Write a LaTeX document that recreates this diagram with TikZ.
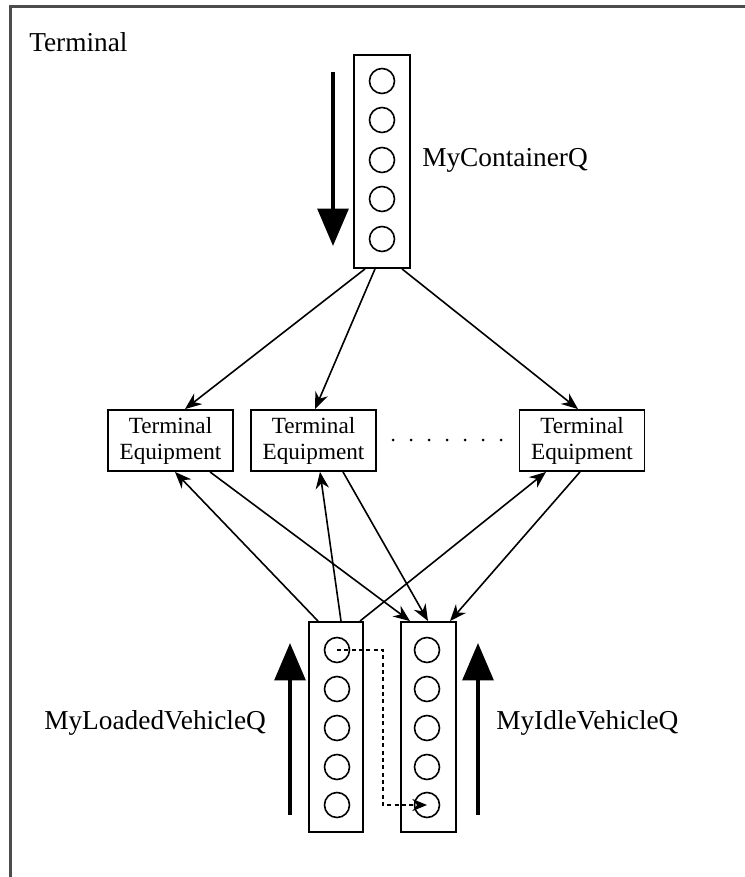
\documentclass[tikz,border=0pt]{standalone}
\usepackage{fontspec}
\setmainfont{Liberation Serif}
\usetikzlibrary{arrows.meta,calc}
\begin{document}
\begin{tikzpicture}[x=0.75pt,y=-0.75pt,
  queuebox/.style={draw, line width=1.4pt, rectangle, inner sep=0pt},
  tebox/.style={draw, line width=1.4pt, rectangle, inner sep=0pt,
    minimum width=93.75pt, minimum height=45.75pt, align=center,
    font=\fontsize{17.4}{19.5}\selectfont},
  slot/.style={circle, draw, line width=1.2pt, minimum size=18.75pt, inner sep=0pt},
  flow/.style={line width=1.2pt, -{Stealth[length=12.5pt,width=10pt]}},
  bigarrow/.style={line width=3pt, -{Triangle[length=28pt,width=23pt]}},
  biglabel/.style={font=\fontsize{20.5}{24}\selectfont, inner sep=0pt, anchor=base west}
]
\useasboundingbox (0,0) rectangle (744,877);

% outer frame of the terminal
\draw[line width=1.8pt, black!70] (10.5,900) |- (760,6.5);
\node[biglabel] (title) at (29,52) {Terminal};

% container queue
\node[queuebox, minimum width=42pt, minimum height=159.75pt] (cq) at (382,161.5) {};
\foreach \y [count=\i] in {81,120,160,199,239}
  \node[slot] (c\i) at (382,\y) {};
\node[biglabel] (cqlabel) at (422,167) {MyContainerQ};
\draw[bigarrow] (333,72) -- (333,246);

% terminal equipment
\node[tebox] (te1) at (170.5,440.5) {Terminal\\Equipment};
\node[tebox] (te2) at (313.5,440.5) {Terminal\\Equipment};
\node[tebox] (te3) at (582,440.5) {Terminal\\Equipment};
\foreach \k in {0,...,6}
  \fill (393+18*\k,440) circle (1.5);

% vehicle queues
\node[queuebox, minimum width=40.5pt, minimum height=157.5pt] (lv) at (336,727) {};
\node[queuebox, minimum width=41.25pt, minimum height=157.5pt] (iv) at (428.5,727) {};
\foreach \y [count=\i] in {650,689,728,767,805} {
  \node[slot] (l\i) at (337,\y) {};
  \node[slot] (i\i) at (427,\y) {};
}
\node[biglabel] (lvlabel) at (44,729) {MyLoadedVehicleQ};
\node[biglabel] (ivlabel) at (496,729) {MyIdleVehicleQ};
\draw[bigarrow] (290,815) -- (290,643);
\draw[bigarrow] (478,815) -- (478,643);

% containers handed to the equipment
\draw[flow] ($(cq.south)+(-17,0)$) -- ($(te1.north)+(14.5,0)$);
\draw[flow] ($(cq.south)+(-7,0)$) -- ($(te2.north)+(1.5,0)$);
\draw[flow] ($(cq.south)+(20,0)$) -- ($(te3.north)+(-4,0)$);

% loaded vehicles to the equipment
\draw[flow] ($(lv.north)+(-18,0)$) -- ($(te1.south)+(4.5,0)$);
\draw[flow] ($(lv.north)+(5,0)$) -- ($(te2.south)+(6.5,0)$);
\draw[flow] ($(lv.north)+(24,0)$) -- ($(te3.south)+(-36,0)$);

% equipment releasing idle vehicles
\draw[flow] ($(te1.south)+(39.5,0)$) -- ($(iv.north)+(-18.5,0)$);
\draw[flow] ($(te2.south)+(29.5,0)$) -- ($(iv.north)+(-0.5,0)$);
\draw[flow] ($(te3.south)+(-2,0)$) -- ($(iv.north)+(21.5,0)$);

% vehicle moving from the loaded queue to the idle queue
\draw[line width=1.2pt, dash pattern=on 3pt off 2.5pt, -{Stealth[length=11pt,width=9pt]}]
  (l1.center) -| ($(i5.center)+(-44,0)$) -- (i5.center);
\end{tikzpicture}
\end{document}
